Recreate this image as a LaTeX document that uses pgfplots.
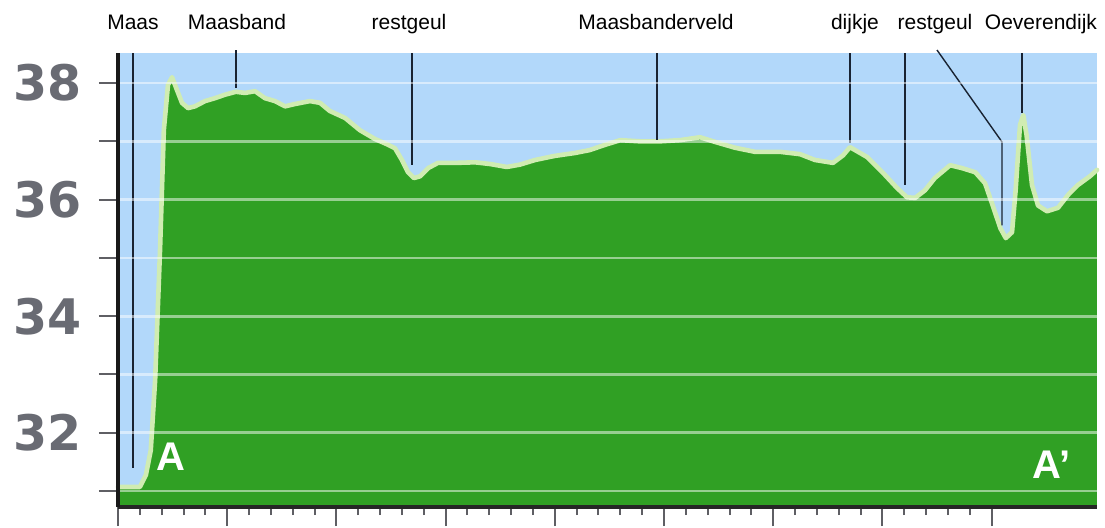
\documentclass[border=0pt]{standalone}
\usepackage{fontspec}
\setmainfont{Liberation Sans}
\newfontfamily\tickfont{DejaVu Sans}
\usepackage{pgfplots}
\pgfplotsset{compat=1.18}
\definecolor{sky}{RGB}{178,216,250}
\definecolor{land}{RGB}{48,160,36}
\definecolor{edge}{RGB}{208,236,178}
\definecolor{lead}{RGB}{25,35,50}
\definecolor{tickgray}{RGB}{95,95,100}
\definecolor{labgray}{RGB}{105,107,115}
\pgfplotstableread{
x y
0.000 31.07
0.200 31.07
0.256 31.28
0.300 31.70
0.340 32.90
0.385 35.14
0.420 37.20
0.458 37.97
0.495 38.10
0.540 37.88
0.586 37.66
0.641 37.57
0.705 37.60
0.797 37.69
0.888 37.74
0.980 37.80
1.080 37.85
1.163 37.83
1.255 37.86
1.346 37.74
1.438 37.69
1.530 37.60
1.620 37.64
1.758 37.69
1.850 37.66
1.940 37.52
2.080 37.40
2.216 37.19
2.353 37.04
2.463 36.95
2.537 36.88
2.600 36.68
2.656 36.47
2.710 36.37
2.766 36.40
2.840 36.54
2.930 36.63
3.086 36.63
3.270 36.64
3.410 36.61
3.560 36.56
3.680 36.60
3.820 36.68
4.000 36.75
4.185 36.80
4.320 36.85
4.460 36.94
4.600 37.02
4.780 37.00
4.963 37.00
5.146 37.02
5.330 37.07
5.467 36.99
5.650 36.89
5.833 36.82
6.062 36.82
6.245 36.78
6.383 36.68
6.548 36.63
6.640 36.76
6.703 36.90
6.777 36.82
6.860 36.73
7.005 36.46
7.134 36.20
7.225 36.04
7.300 36.03
7.390 36.16
7.480 36.37
7.620 36.59
7.730 36.54
7.850 36.47
7.940 36.28
8.010 35.90
8.080 35.51
8.130 35.34
8.187 35.44
8.220 36.16
8.260 37.28
8.290 37.45
8.320 37.11
8.370 36.25
8.425 35.90
8.507 35.80
8.608 35.86
8.700 36.08
8.790 36.25
8.900 36.40
8.965 36.51
}\profile
\begin{document}
\begin{tikzpicture}
\path[use as bounding box] (-59pt,-10pt) rectangle (493.5pt,253.5pt);
\begin{axis}[
  at={(0,0)}, anchor=south west,
  scale only axis, width=489.5pt, height=227pt,
  xmin=0, xmax=8.965, ymin=30.727, ymax=38.515,
  clip=false,
  axis on top,
  axis background/.style={fill=sky},
  axis x line=bottom, axis y line=left,
  x axis line style={-, line width=1.6pt, black!85},
  y axis line style={-, line width=2pt, black!90},
  xtick={0,...,8}, minor x tick num=4, xticklabels={},
  ytick={31,...,38}, yticklabels={,32,,34,,36,,38},
  tick align=outside,
  major tick length=9.5pt, minor tick length=4pt,
  tick style={tickgray, line width=1pt},
  ymajorgrids,
  major grid style={white, opacity=0.5, line width=1.3pt},
  /pgf/number format/assume math mode=true,
  yticklabel style={font=\tickfont\bfseries\fontsize{24.5}{24}\selectfont, text=labgray, anchor=east, xshift=-5pt},
]
\addplot[draw=none, fill=land] table {\profile} \closedcycle;
\addplot[draw=edge, line width=2.3pt, line join=round, line cap=round] table {\profile};
% leader lines
\begin{scope}[lead, line width=0.7pt]
\draw (axis cs:0.137,38.515) -- (axis cs:0.137,31.40);
\draw (axis cs:1.081,38.566) -- (axis cs:1.081,37.91);
\draw (axis cs:2.692,38.515) -- (axis cs:2.692,36.59);
\draw (axis cs:4.936,38.515) -- (axis cs:4.936,37.02);
\draw (axis cs:6.703,38.515) -- (axis cs:6.703,36.97);
\draw (axis cs:7.207,38.515) -- (axis cs:7.207,36.25);
\draw (axis cs:7.500,38.566) -- (axis cs:8.095,36.99) -- (axis cs:8.095,35.56);
\draw (axis cs:8.278,38.515) -- (axis cs:8.278,37.49);
\end{scope}
\begin{scope}[every node/.style={anchor=base, font=\fontsize{10.5}{12}\selectfont, inner sep=0pt}]
\node at (axis cs:0.137,38.926) {Maas};
\node at (axis cs:1.090,38.926) {Maasband};
\node at (axis cs:2.665,38.926) {restgeul};
\node at (axis cs:4.927,38.926) {Maasbanderveld};
\node at (axis cs:6.749,38.926) {dijkje};
\node at (axis cs:7.482,38.926) {restgeul};
\node at (axis cs:8.452,38.926) {Oeverendijk};
\end{scope}
\node[anchor=base, text=white, font=\bfseries\fontsize{20}{20}\selectfont, inner sep=0pt] at (axis cs:0.485,31.36) {A};
\node[anchor=base west, text=white, font=\bfseries\fontsize{20}{20}\selectfont, inner sep=0pt] at (axis cs:8.37,31.22) {A’};
\end{axis}
\end{tikzpicture}
\end{document}
